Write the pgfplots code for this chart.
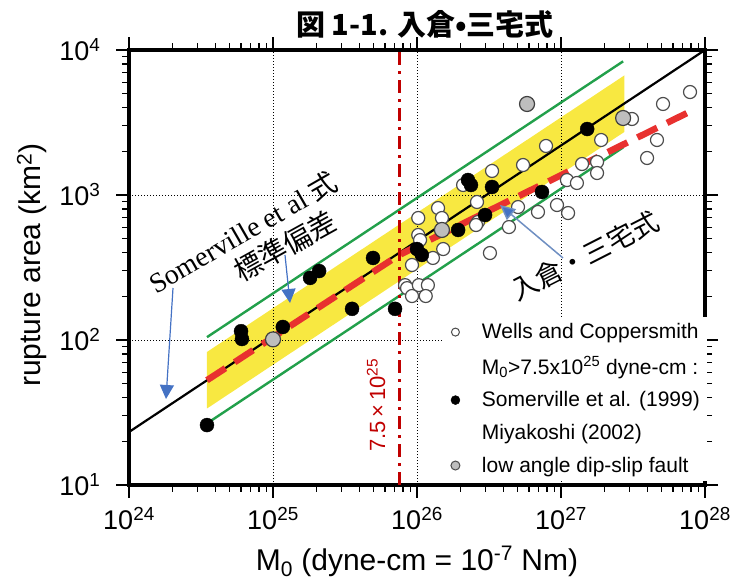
\documentclass[border=0pt]{standalone}
\usepackage{fontspec}
\setmainfont{Liberation Sans}
\newfontfamily\serif{Liberation Serif}
\newfontfamily\cjk{Noto Sans CJK JP}
\usepackage{pgfplots}
\pgfplotsset{compat=1.18}
\usetikzlibrary{arrows.meta}
\definecolor{bandyellow}{HTML}{F8E841}
\definecolor{sgreen}{HTML}{22A04B}
\definecolor{ired}{HTML}{E8312F}
\definecolor{vred}{HTML}{C00000}
\definecolor{ablue}{HTML}{4472C4}
\definecolor{agray}{HTML}{6F8FC2}
\definecolor{ptgray}{HTML}{BEBEBE}

\pgfplotstableread{
x y
5.45e26 1610
3.32e26 1465
2.09e26 1172
2.61e26 895
5.03e26 826
6.92e26 764
4.35e26 601
2.65e26 651
2.57e26 621
3.21e26 398
1.40e26 813
1.02e26 694
1.49e26 694
1.02e26 530
1.05e26 489
1.52e26 424
1.29e26 368
9.23e25 329
8.26e25 239
8.53e25 228
1.03e26 239
1.19e26 239
9.23e25 201
1.15e26 201
7.87e26 2178
1.90e27 2395
1.40e27 1636
1.78e27 1690
1.78e27 1418
1.10e27 1268
1.29e27 1210
9.38e26 853
1.12e27 751
3.11e27 3343
5.11e27 4243
7.87e27 5129
4.64e27 2395
3.96e27 1800
}\wells

\pgfplotstableread{
x y
3.48e24 25.9
6.0e24 115
6.09e24 101.6
1.17e25 123
1.81e25 268
2.09e25 299
3.54e25 164
4.95e25 368
7.04e25 164
1.0e26 424
1.08e26 386
2.26e26 1268
2.37e26 1172
3.32e26 1136
1.93e26 574
2.97e26 728
7.38e26 1049
1.52e27 2851
}\somer

\pgfplotstableread{
x y
1.0e25 101
1.49e26 574
5.81e26 4243
2.70e27 3396
}\lowangle

\begin{document}
\begin{tikzpicture}
\begin{axis}[
  at={(0pt,0pt)}, anchor=south west,
  scale only axis, width=576pt, height=435pt,
  xmode=log, ymode=log, log basis x=10, log basis y=10,
  xmin=1e24, xmax=1e28, ymin=10, ymax=1e4,
  axis line style={line width=3.5pt},
  tick align=outside,
  major tick length=13pt, minor tick length=7pt,
  tick style={black, line width=1.2pt},
  grid=major,
  major grid style={black, line width=0.9pt, dash pattern=on 1pt off 2pt},
  xticklabel={10\textsuperscript{\pgfmathprintnumber[fixed,precision=0,assume math mode=true]{\tick}}},
  yticklabel={10\textsuperscript{\pgfmathprintnumber[fixed,precision=0,assume math mode=true]{\tick}}},
  tick label style={font=\fontsize{27}{30}\selectfont},
  xticklabel style={yshift=-6pt},
  yticklabel style={xshift=-12pt},
  set layers,
  legend cell align=left,
  legend style={at={(1.0035,0.009)}, anchor=south east, draw=none, fill=white,
    font=\fontsize{21}{24}\selectfont, row sep=12pt, column sep=20pt, inner xsep=5pt, inner ysep=5pt},
]
\addlegendimage{only marks, mark=*, mark size=4pt, mark options={fill=white, draw=black!70, line width=1pt}}
\addlegendentry{Wells and Coppersmith}
\addlegendimage{empty legend}
\addlegendentry{M\textsubscript{0}>7.5x10\textsuperscript{25} dyne-cm :}
\addlegendimage{only marks, mark=*, mark size=4.5pt, mark options={fill=black, draw=black}}
\addlegendentry{Somerville et al. (1999)}
\addlegendimage{empty legend}
\addlegendentry{Miyakoshi (2002)}
\addlegendimage{only marks, mark=*, mark size=4.5pt, mark options={fill=ptgray, draw=black!70, line width=1pt}}
\addlegendentry{low angle dip-slip fault}

% yellow band (standard deviation)
\addplot[on layer=axis background, fill=bandyellow, draw=none, forget plot]
  coordinates {(3.48e24,82.7) (2.75e27,6674) (2.75e27,2719) (3.48e24,33.7)} -- cycle;
% green lines
\addplot[sgreen, line width=2.4pt, forget plot] coordinates {(3.48e24,104.6) (2.70e27,8352)};
\addplot[sgreen, line width=2.4pt, forget plot] coordinates {(3.48e24,26.6) (2.70e27,2127)};
% Somerville line
\addplot[black, line width=2.2pt, forget plot] coordinates {(1e24,23.2) (1e28,1e4)};
% Irikura-Miyake
\addplot[ired, line width=6.5pt, dash pattern=on 22pt off 11pt, forget plot]
  coordinates {(3.48e24,52.8) (7.5e25,385) (7.87e27,3762)};
% vertical line at 7.5e25
\addplot[vred, line width=3pt, dash pattern=on 13pt off 6pt on 3pt off 6pt, forget plot]
  coordinates {(7.5e25,10) (7.5e25,1e4)};
% data
\addplot[only marks, mark=*, mark size=6.5pt, mark options={fill=white, draw=black!70, line width=1.2pt}, forget plot] table {\wells};
\addplot[only marks, mark=*, mark size=7.5pt, mark options={fill=ptgray, draw=black!75, line width=1.2pt}, forget plot] table {\lowangle};
\addplot[only marks, mark=*, mark size=7pt, mark options={fill=black, draw=black}, forget plot] table {\somer};
\end{axis}

% title
\node[font=\cjk\bfseries\fontsize{29}{32}\selectfont] at (296pt,461pt) {図 1-1. 入倉•三宅式};
% axis labels
\node[anchor=base, font=\fontsize{30}{34}\selectfont] at (288pt,-85pt) {M\textsubscript{0} (dyne-cm = 10\textsuperscript{-7} Nm)};
\node[rotate=90, font=\fontsize{30}{34}\selectfont] at (-97pt,220pt) {rupture area (km\textsuperscript{2})};
% annotations
\node[rotate=30, font=\serif\fontsize{28}{32}\selectfont] at (114pt,253pt) {Somerville et al {\cjk 式}};
\node[rotate=29, font=\cjk\fontsize{28}{32}\selectfont] at (156pt,239pt) {標準偏差};
\node[rotate=27, font=\cjk\fontsize{27}{30}\selectfont] at (456pt,229pt) {入倉・三宅式};
\node[rotate=90, text=vred, font=\fontsize{22}{26}\selectfont] at (247pt,80pt) {7.5\,×\,10\textsuperscript{25}};
% arrows
\draw[ablue, line width=1.2pt, -{Triangle[length=14pt, width=14pt]}] (44pt,197pt) -- (37pt,86pt);
\draw[ablue, line width=1.2pt, -{Triangle[length=14pt, width=14pt]}] (156pt,230pt) -- (161pt,182pt);
\draw[agray, line width=1.5pt, -{Triangle[length=15pt, width=14pt, fill=ablue]}] (434pt,227pt) -- (371pt,280pt);

\pgfresetboundingbox
\path[use as bounding box] (-129pt,-93pt) rectangle (617pt,485pt);
\end{tikzpicture}
\end{document}
